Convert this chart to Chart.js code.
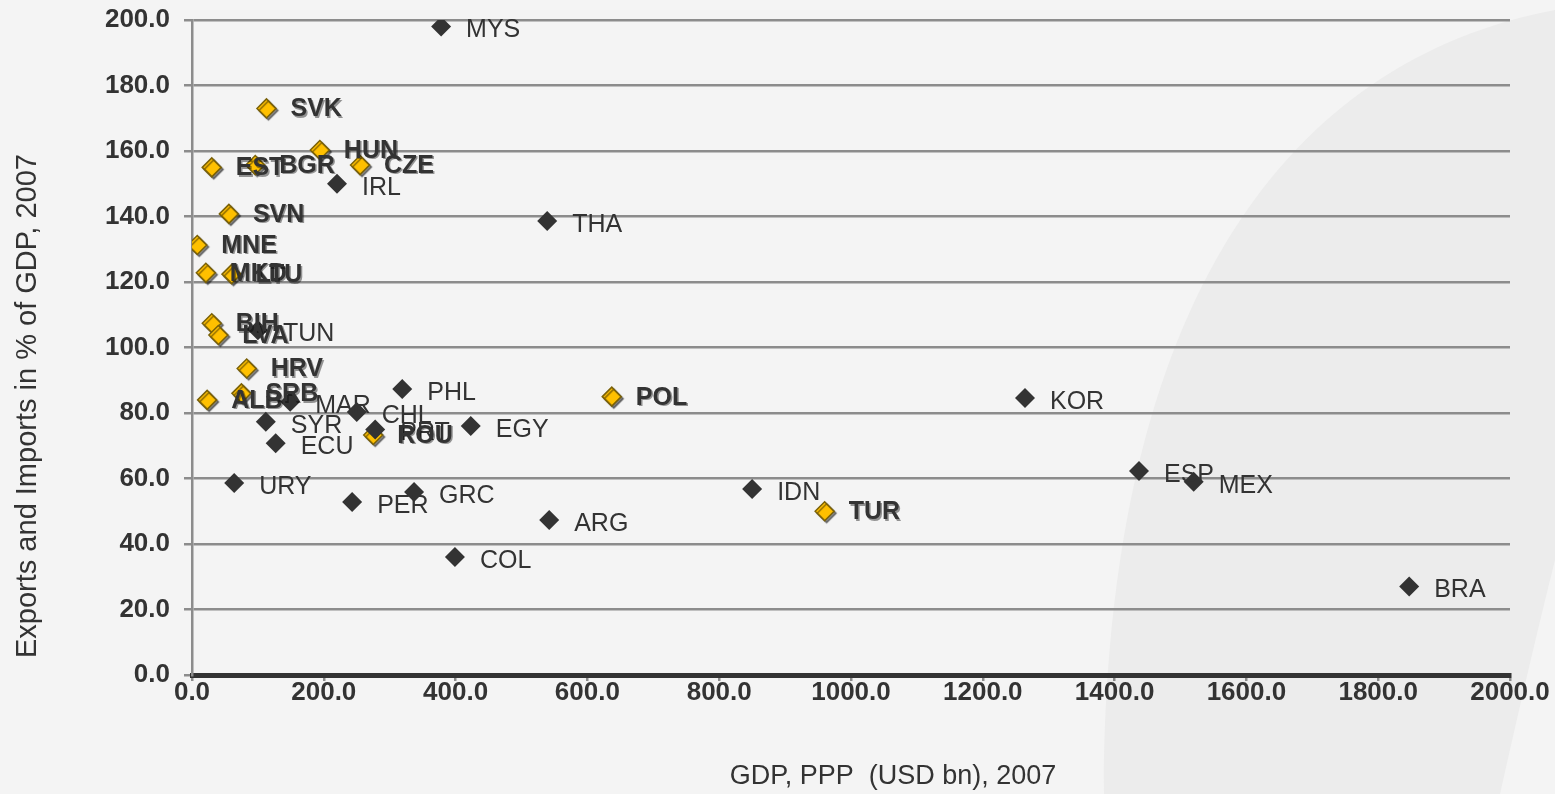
<!DOCTYPE html>
<html>
<head>
<meta charset="utf-8">
<script src="https://cdn.jsdelivr.net/npm/chart.js@4.4.0/dist/chart.umd.min.js"></script>
<style>
  body { margin: 0; background: #f4f4f4; }
  #wrap { width: 1555px; height: 794px; position: relative; }
</style>
</head>
<body>
<div id="wrap"><canvas id="chart"></canvas></div>
<script>
// Paises de la UE y candidatos (rombos amarillos)
const codigosUE = ['SVK', 'HUN', 'EST', 'BGR', 'CZE', 'SVN', 'MNE', 'MKD', 'LTU', 'BIH', 'LVA', 'HRV', 'ALB', 'SRB', 'POL', 'ROU', 'TUR'];
const pibUE = [113, 194, 30, 96, 255, 56, 8, 21, 60, 30, 40, 83, 23, 75, 637, 275, 960];
const comercioUE = [173, 160.3, 155, 155.7, 155.7, 140.8, 131.3, 122.8, 122.4, 107.4, 103.8, 93.6, 84, 86, 85, 73.3, 50];

// Otros paises (rombos oscuros)
const codigosOtros = ['MYS', 'IRL', 'THA', 'TUN', 'PHL', 'MAR', 'CHL', 'SYR', 'ECU', 'PRT', 'EGY', 'URY', 'PER', 'GRC', 'ARG', 'COL', 'IDN', 'KOR', 'ESP', 'MEX', 'BRA'];
const pibOtros = [378, 220, 539, 100, 319, 149, 250, 112, 127, 278, 423, 64, 243, 337, 542, 399, 850, 1264, 1437, 1520, 1847];
const comercioOtros = [198, 150, 138.6, 105.3, 87.3, 83.4, 80.3, 77.3, 70.8, 75, 76, 58.6, 52.8, 55.9, 47.3, 36, 56.8, 84.6, 62.3, 59, 27];

// Ejes
const ejeX = { min: 0, max: 2000, paso: 200 };
const ejeY = { min: 0, max: 200, paso: 20 };
const tituloX = 'GDP, PPP  (USD bn), 2007';
const tituloY = 'Exports and Imports in % of GDP, 2007';

const puntos = (xs, ys) => xs.map((x, i) => ({ x: x, y: ys[i] }));

// Fondo con la curva gris clara a la derecha
const fondo = {
    id: 'fondo',
    beforeDraw(chart) {
        const ctx = chart.ctx;
        ctx.save();
        ctx.fillStyle = '#f4f4f4';
        ctx.fillRect(0, 0, chart.width, chart.height);
        ctx.fillStyle = '#ececec';
        ctx.beginPath();
        ctx.moveTo(1555, 10);
        ctx.bezierCurveTo(1290, 60, 1105, 300, 1104, 794);
        ctx.lineTo(1500, 794);
        ctx.quadraticCurveTo(1530, 660, 1555, 560);
        ctx.closePath();
        ctx.fill();
        ctx.restore();
    }
};

// Sombra para los rombos amarillos
const sombra = {
    id: 'sombra',
    beforeDatasetDraw(chart, args) {
        if (args.index !== 1) return;
        const ctx = chart.ctx;
        ctx.save();
        ctx.shadowColor = 'rgba(0,0,0,0.45)';
        ctx.shadowOffsetX = 2;
        ctx.shadowOffsetY = 2;
        ctx.shadowBlur = 1;
    },
    afterDatasetDraw(chart, args) {
        if (args.index !== 1) return;
        chart.ctx.restore();
    }
};

// Etiquetas de cada punto y titulos de los ejes
const etiquetas = {
    id: 'etiquetas',
    afterDatasetsDraw(chart) {
        const ctx = chart.ctx;
        ctx.save();
        ctx.textAlign = 'left';
        ctx.textBaseline = 'middle';
        ctx.fillStyle = '#333333';

        ctx.font = '25px "Liberation Sans", Arial, sans-serif';
        chart.getDatasetMeta(0).data.forEach((p, i) => {
            ctx.fillText(codigosOtros[i], p.x + 25, p.y + 4);
        });

        ctx.font = 'bold 25px "Liberation Sans", Arial, sans-serif';
        ctx.shadowColor = 'rgba(0,0,0,0.4)';
        ctx.shadowOffsetX = 1.5;
        ctx.shadowOffsetY = 1.5;
        chart.getDatasetMeta(1).data.forEach((p, i) => {
            ctx.fillText(codigosUE[i], p.x + 24, p.y + 1);
        });
        ctx.restore();

        ctx.save();
        ctx.fillStyle = '#333333';
        ctx.textAlign = 'center';
        ctx.textBaseline = 'middle';
        ctx.font = '27px "Liberation Sans", Arial, sans-serif';
        ctx.fillText(tituloX, 893, 777);
        ctx.translate(28, 406);
        ctx.rotate(-Math.PI / 2);
        ctx.font = '29px "Liberation Sans", Arial, sans-serif';
        ctx.fillText(tituloY, 0, 0);
        ctx.restore();
    }
};

const ctx = document.getElementById('chart').getContext('2d');

new Chart(ctx, {
    type: 'scatter',
    data: {
        datasets: [{
            label: 'Otros',
            data: puntos(pibOtros, comercioOtros),
            pointStyle: 'rectRot',
            pointRadius: 10,
            pointHoverRadius: 10,
            backgroundColor: '#333333',
            borderColor: '#333333',
            borderWidth: 0
        }, {
            label: 'UE',
            data: puntos(pibUE, comercioUE),
            pointStyle: 'rectRot',
            pointRadius: 9.5,
            pointHoverRadius: 9.5,
            backgroundColor: '#ffc000',
            borderColor: '#7a6108',
            borderWidth: 1.5
        }]
    },
    options: {
        responsive: true,
        maintainAspectRatio: false,
        animation: false,
        layout: { padding: { left: 0, top: 20, right: 45, bottom: 0 } },
        plugins: {
            legend: { display: false },
            tooltip: { enabled: false }
        },
        scales: {
            x: {
                type: 'linear',
                min: ejeX.min,
                max: ejeX.max,
                afterFit: (s) => { s.height = 119; s.paddingLeft = 0; s.paddingRight = 0; },
                ticks: {
                    stepSize: ejeX.paso,
                    padding: -4,
                    color: '#333333',
                    font: { family: '"Liberation Sans", Arial, sans-serif', size: 26, weight: 'bold' },
                    callback: (v) => v.toFixed(1),
                    maxRotation: 0,
                    autoSkip: false
                },
                grid: {
                    drawOnChartArea: false,
                    drawTicks: true,
                    tickLength: 6,
                    color: '#8c8c8c',
                    lineWidth: 2.5
                },
                border: { color: '#333333', width: 5 }
            },
            y: {
                type: 'linear',
                min: ejeY.min,
                max: ejeY.max,
                afterFit: (s) => { s.width = 192; s.paddingTop = 0; s.paddingBottom = 0; },
                ticks: {
                    stepSize: ejeY.paso,
                    padding: 14,
                    color: '#333333',
                    font: { family: '"Liberation Sans", Arial, sans-serif', size: 26, weight: 'bold' },
                    callback: (v) => v.toFixed(1)
                },
                grid: {
                    color: '#8c8c8c',
                    lineWidth: 2.5,
                    tickLength: 8
                },
                border: { color: '#8c8c8c', width: 2.5 }
            }
        }
    },
    plugins: [fondo, sombra, etiquetas]
});
</script>
</body>
</html>
